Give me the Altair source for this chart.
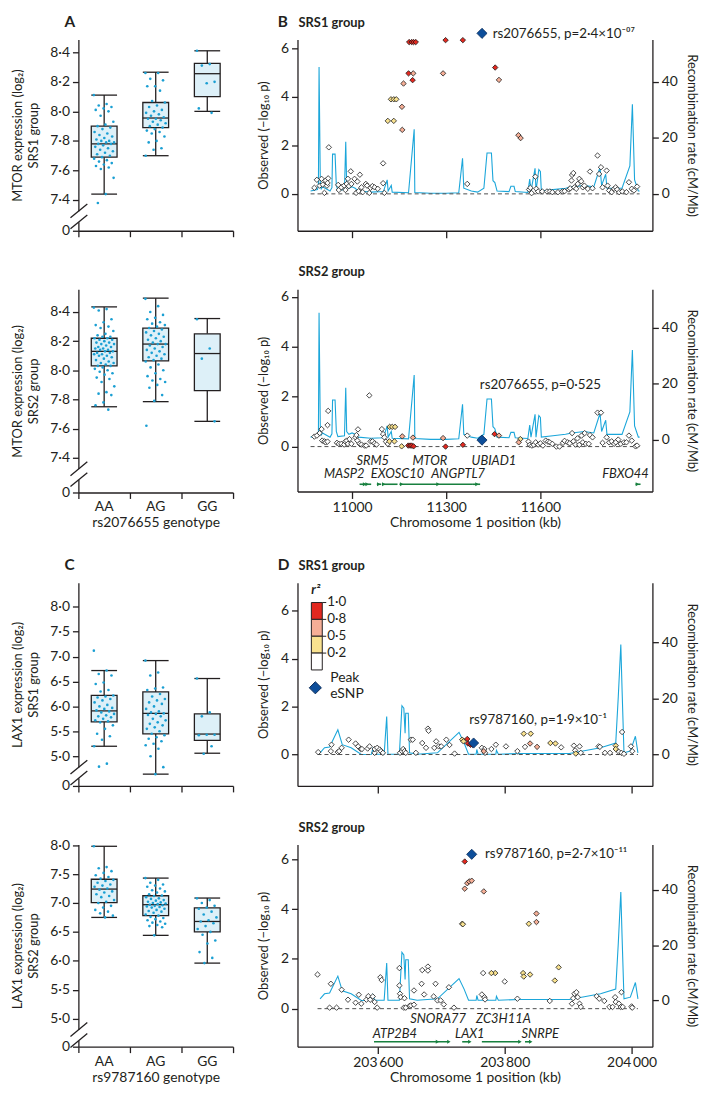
import altair as alt
import pandas as pd

FONT = "Lato"
INK = "#231f20"
BOX_FILL = "#ddf0f8"
DOT = "#1a9fd3"
REC = "#1ba6da"
GREEN = "#18803f"
PEAK = "#0d4e9a"
R2_CODES = ["w", "y", "s", "r"]
R2_COLORS = ["#ffffff", "#f9e28f", "#f5ae96", "#e3281f"]
GENOTYPES = ["AA", "AG", "GG"]

# ---------------- Panel A: MTOR expression by rs2076655 genotype ----------------
A1_AA = [8.11, 8.05, 8.04, 8.03, 8.02, 8.01, 8.00, 7.97, 7.93, 7.91, 7.90, 7.89, 7.88, 7.86, 7.85,
         7.84, 7.83, 7.82, 7.81, 7.80, 7.80, 7.79, 7.79, 7.78, 7.78, 7.77, 7.76, 7.75, 7.74, 7.73,
         7.72, 7.71, 7.70, 7.69, 7.68, 7.67, 7.66, 7.65, 7.64, 7.63, 7.62, 7.61, 7.55, 7.44, 7.38]
A1_AG = [8.26, 8.26, 8.22, 8.21, 8.17, 8.17, 8.14, 8.07, 8.06, 8.04, 8.03, 8.01, 8.00, 7.99, 7.98,
         7.97, 7.96, 7.95, 7.95, 7.94, 7.93, 7.92, 7.91, 7.90, 7.89, 7.88, 7.87, 7.86, 7.85, 7.83,
         7.80, 7.79, 7.75, 7.74, 7.70]
A1_GG = [8.41, 8.32, 8.31, 8.20, 8.19, 8.02, 7.99]
A1_BOX = [[7.44, 7.69, 7.78, 7.90, 8.11], [7.70, 7.89, 7.955, 8.06, 8.265], [8.00, 8.10, 8.255, 8.325, 8.41]]

A2_AA = [8.43, 8.42, 8.41, 8.35, 8.33, 8.31, 8.30, 8.29, 8.27, 8.25, 8.24, 8.23, 8.23, 8.22, 8.22,
         8.21, 8.21, 8.20, 8.19, 8.19, 8.18, 8.18, 8.17, 8.16, 8.16, 8.15, 8.15, 8.14, 8.14, 8.13,
         8.13, 8.12, 8.12, 8.11, 8.11, 8.10, 8.10, 8.09, 8.08, 8.07, 8.06, 8.05, 8.05, 8.04, 8.03,
         8.03, 8.02, 8.01, 8.00, 7.99, 7.98, 7.97, 7.95, 7.94, 7.92, 7.89, 7.85, 7.84, 7.83, 7.78,
         7.76, 7.73]
A2_AG = [8.49, 8.44, 8.40, 8.38, 8.36, 8.35, 8.33, 8.32, 8.31, 8.30, 8.29, 8.28, 8.27, 8.26, 8.25,
         8.24, 8.23, 8.22, 8.21, 8.20, 8.19, 8.18, 8.18, 8.17, 8.16, 8.15, 8.14, 8.13, 8.12, 8.11,
         8.10, 8.09, 8.08, 8.07, 8.06, 8.04, 8.02, 8.00, 7.98, 7.96, 7.94, 7.93, 7.92, 7.90, 7.88,
         7.83, 7.79, 7.62]
A2_GG = [8.35, 8.15, 8.08, 7.65]
A2_BOX = [[7.75, 8.03, 8.13, 8.22, 8.435], [7.785, 8.065, 8.18, 8.29, 8.495], [7.65, 7.86, 8.115, 8.25, 8.355]]

# ---------------- Panel C: LAX1 expression by rs9787160 genotype ----------------
C1_AA = [7.12, 6.72, 6.65, 6.62, 6.48, 6.45, 6.33, 6.30, 6.22, 6.20, 6.18, 6.15, 6.12, 6.08, 6.03,
         6.00, 5.97, 5.95, 5.92, 5.90, 5.88, 5.85, 5.82, 5.80, 5.78, 5.75, 5.72, 5.70, 5.68, 5.62,
         5.55, 5.45, 5.40, 5.33, 5.20, 4.85, 4.79]
C1_AG = [6.92, 6.68, 6.62, 6.38, 6.36, 6.33, 6.25, 6.20, 6.15, 6.12, 6.08, 6.05, 6.00, 5.95, 5.90,
         5.88, 5.86, 5.85, 5.83, 5.80, 5.75, 5.72, 5.68, 5.65, 5.62, 5.58, 5.55, 5.50, 5.45, 5.42,
         5.38, 5.35, 5.30, 5.25, 5.22, 5.15, 5.00, 4.78, 4.64]
C1_GG = [6.56, 5.88, 5.80, 5.43, 5.43, 5.42, 5.20, 5.05]
C1_BOX = [[5.20, 5.69, 5.91, 6.22, 6.72], [4.64, 5.45, 5.86, 6.29, 6.92], [5.06, 5.32, 5.445, 5.85, 6.56]]

C2_AA = [7.98, 7.62, 7.60, 7.55, 7.52, 7.48, 7.45, 7.42, 7.40, 7.38, 7.35, 7.32, 7.30, 7.28, 7.25,
         7.23, 7.20, 7.18, 7.15, 7.12, 7.10, 7.05, 7.02, 7.00, 6.95, 6.92, 6.88, 6.85, 6.82, 6.78, 6.75]
C2_AG = [7.43, 7.40, 7.35, 7.32, 7.30, 7.28, 7.25, 7.22, 7.20, 7.18, 7.15, 7.13, 7.12, 7.10, 7.08,
         7.07, 7.05, 7.04, 7.02, 7.01, 7.00, 6.99, 6.98, 6.97, 6.96, 6.95, 6.94, 6.93, 6.92, 6.90,
         6.88, 6.86, 6.85, 6.83, 6.80, 6.78, 6.76, 6.74, 6.72, 6.70, 6.68, 6.66, 6.64, 6.62, 6.60,
         6.58, 6.44]
C2_GG = [7.08, 7.05, 7.00, 6.95, 6.92, 6.90, 6.85, 6.80, 6.75, 6.70, 6.68, 6.65, 6.60, 6.55, 6.50,
         6.45, 6.35, 6.30, 6.15, 6.05, 5.96]
C2_BOX = [[6.75, 7.005, 7.24, 7.41, 7.98], [6.44, 6.78, 6.97, 7.125, 7.43], [5.96, 6.50, 6.68, 6.915, 7.085]]

# ---------------- Panel B: MTOR locus (kb, -log10 p) ----------------
B1_WHITE = [(10880, .25), (10888, .58), (10897, .34), (10903, .62), (10907, .38), (10912, .04), (10916, .55),
            (10920, .34), (10924, .64), (10922, .45), (10926, 1.92), (10956, .37), (10958, .16), (10966, .27),
            (10975, .34), (10979, .16), (10983, .41), (10987, .62), (10990, .32), (10996, .93), (10998, .41),
            (11008, .62), (11013, .04), (11017, .51), (11021, .11), (11025, .79), (11030, .27), (11034, .07),
            (11044, .41), (11048, .34), (11055, .04), (11059, .25), (11065, .32), (11072, .27), (11082, .21),
            (11099, 1.26), (11099, .44), (11103, .04), (11367, .41),
            (11564, .18), (11568, .25), (11572, .03), (11584, .71), (11587, .21), (11593, .10), (11606, .10),
            (11621, .10), (11630, .10), (11638, .07), (11656, .07), (11670, .10), (11677, .11), (11691, .18),
            (11695, .23), (11699, .55), (11701, .78), (11705, .86), (11708, .27), (11714, .21), (11719, .41),
            (11724, .62), (11730, .52), (11735, .27), (11740, .34), (11751, .21), (11758, .92), (11766, .23),
            (11782, 1.58), (11787, .82), (11793, 1.10), (11798, .27), (11811, .96), (11814, .34), (11819, .14),
            (11827, .07), (11835, .21), (11840, .27), (11845, .18), (11851, .07), (11861, .10), (11874, .07),
            (11882, .48), (11891, .21), (11898, .14), (11908, .30)]
B1_YELLOW = [(11114, 3.01), (11133, 3.01), (11124, 3.90), (11133, 3.90), (11141, 3.90)]
B1_SALMON = [(11159, 3.59), (11160, 2.64), (11164, 4.55), (11195, 4.97), (11290, 4.97), (11468, 4.70),
             (11530, 2.42), (11537, 2.30)]
B1_RED = [(11180, 4.97), (11193, 4.69), (11182, 6.26), (11190, 6.26), (11196, 6.26), (11203, 6.26),
          (11298, 6.34), (11353, 6.34), (11456, 5.21)]
B1_PEAK = (11414, 6.62)
B1_LABEL = ("rs2076655, p=2\u00b74\u00d710\u207b\u2070\u2077", 11448, 6.58)

B2_WHITE = [(10880, .40), (10888, .44), (10897, .54), (10903, .70), (10905, .24), (10912, .21), (10916, .17),
            (10922, .20), (10922, .86), (10924, 1.43), (10952, .15), (10958, .11), (10966, .11), (10975, .08),
            (10979, .20), (10983, .24), (10987, .11), (10992, .30), (10998, .11), (11011, .37), (11014, .46),
            (11019, .69), (11017, .24), (11024, .11), (11030, .08), (11040, .04), (11045, .04), (11055, 2.05),
            (11059, .21), (11065, .21), (11072, .13), (11078, .08), (11095, .70), (11099, .50), (11103, .37),
            (11108, .20), (11114, .11), (11367, .44),
            (11562, .20), (11566, .07), (11573, .04), (11579, .07), (11585, .17), (11593, .08), (11600, .13),
            (11608, .04), (11617, .24), (11624, .20), (11630, .17), (11638, .11), (11651, .0), (11661, .0),
            (11672, .15), (11677, .23), (11687, .17), (11693, .13), (11701, .54), (11705, .21), (11712, .08),
            (11718, .33), (11724, .07), (11731, .44), (11735, .17), (11741, .54), (11745, .11), (11754, .11),
            (11758, .46), (11766, .37), (11782, 1.36), (11793, 1.36), (11798, .15), (11811, .37), (11819, .17),
            (11827, .21), (11835, .11), (11840, .17), (11848, .28), (11856, .11), (11866, .17), (11874, .17),
            (11882, .44), (11891, .24), (11903, .01), (11908, .04)]
B2_YELLOW = [(11120, .79), (11128, .79), (11137, .79), (11119, .21), (11135, .21), (11158, .01), (11536, .30)]
B2_SALMON = [(11160, .41), (11194, .36), (11290, .34), (11468, .44), (11531, .17)]
B2_RED = [(11179, .04), (11185, .04), (11190, .04), (11196, .01), (11298, .0), (11353, .07), (11454, .50)]
B2_PEAK = (11414, 0.26)
B2_LABEL = ("rs2076655, p=0\u00b7525", 11407, 2.45)

B_REC_KB = [10868, 10890, 10893, 10895, 10899, 10902, 10906, 10930, 10936, 10938, 10946, 10950, 10955,
            10976, 10980, 10983, 10990, 11000, 11010, 11020, 11060, 11100, 11112, 11115, 11125, 11128,
            11180, 11198, 11200, 11250, 11300, 11340, 11352, 11356, 11380, 11400, 11420, 11430, 11444,
            11449, 11455, 11462, 11500, 11506, 11516, 11520, 11560, 11566, 11570, 11583, 11586, 11595,
            11600, 11603, 11640, 11680, 11700, 11740, 11770, 11790, 11795, 11808, 11812, 11860, 11885,
            11893, 11900, 11912, 11916]
B_REC_RATE = [1.0, 1.5, 3.0, 45.3, 4.0, 1.8, 2.5, 1.0, 2.2, 14.2, 14.2, 3.0, 1.2,
              1.5, 18.6, 3.0, 2.0, 2.5, 2.0, 1.0, 0.6, 0.8, 5.0, 1.0, 3.0, 0.6,
              0.4, 23.1, 0.5, 0.2, 0.2, 0.4, 12.7, 2.0, 1.0, 0.6, 2.0, 14.6, 14.6,
              4.7, 4.0, 1.0, 0.8, 2.7, 2.7, 0.8, 0.5, 5.3, 1.0, 9.1, 1.0, 8.7,
              8.0, 1.0, 1.5, 2.0, 2.5, 3.0, 2.5, 9.5, 3.0, 7.0, 2.0, 2.0, 10.0,
              32.0, 5.0, 1.0, 1.0]

B_GENE_NAMES = ["SRM5", "MTOR", "UBIAD1", "MASP2", "EXOSC10", "ANGPTL7", "FBXO44"]
B_GENE_LABEL_KB = [11066, 11248, 11452, 10975, 11145, 11338, 11871]
B_GENE_ROW = [1, 1, 1, 2, 2, 2, 2]
B_GENE_START = [11024, 11079, 11098, 11151, 11385, 11903]
B_GENE_END = [11061, 11093, 11145, 11385, 11408, 11919]
B_GENE_MARKS = [11040, 11048, 11085, 11101, 11158, 11274, 11398, 11909]

# ---------------- Panel D: LAX1 locus ----------------
D1_WHITE = [(203506, .10), (203526, .14), (203527, .41), (203537, .10), (203539, .14), (203543, .28),
            (203554, .62), (203565, .46), (203569, .34), (203573, .23), (203575, .23), (203584, .25),
            (203587, .34), (203595, .07), (203595, .23), (203599, .28), (203603, .21), (203605, .14),
            (203608, .07), (203635, .07), (203638, .14), (203640, .23), (203642, .14), (203644, .07),
            (203652, .62), (203655, .62), (203660, .07), (203670, .48), (203676, .28), (203679, 1.08),
            (203680, .99), (203689, .28), (203692, .55), (203696, .34), (203700, .34), (203708, .62),
            (203713, .40), (203721, .04), (203764, .28), (203768, .23), (203769, .07), (203779, .23),
            (203786, .41), (203802, .34), (203820, .14), (203832, .32), (203889, .30), (203909, .37),
            (203911, .17), (203918, .34), (203920, .07), (203948, .34), (203950, .32), (203958, .07),
            (203966, .07), (203980, .11), (203985, .94), (203984, .07), (203988, .03), (203999, .34),
            (204001, .14)]
D1_YELLOW = [(203733, .62), (203735, .55), (203830, .87), (203841, .87), (203872, .48), (203880, .46),
             (203912, .04), (203975, .37), (203975, .23)]
D1_SALMON = [(203767, .14), (203840, .46), (203851, .32)]
D1_RED = [(203741, .65), (203742, .46), (203746, .41), (203749, .41)]
D1_PEAK = (203751, 0.48)
D1_LABEL = ("rs9787160, p=1\u00b79\u00d710\u207b\u00b9", 203744, 1.46)

D2_WHITE = [(203505, 1.37), (203526, 1.00), (203524, .04), (203535, .04), (203543, .76), (203553, .36),
            (203565, .24), (203570, .56), (203574, .20), (203582, .36), (203585, .50), (203588, .36),
            (203592, .49), (203595, .27), (203599, .04), (203604, 1.26), (203606, 1.15), (203634, 1.63),
            (203634, .93), (203635, .60), (203636, .46), (203642, .42), (203641, .04), (203644, .04),
            (203650, .11), (203652, .13), (203657, .73), (203657, .16), (203669, 1.00), (203670, 1.55),
            (203673, .57), (203679, 1.69), (203679, 1.53), (203688, .49), (203691, 1.00), (203694, .33),
            (203699, .33), (203704, .17), (203712, .86), (203720, .04), (203766, 1.43), (203764, .57),
            (203768, .46), (203769, .37), (203800, 1.09), (203820, .40), (203871, .31),
            (203906, .20), (203908, .42), (203910, .60), (203913, .66), (203915, .46), (203918, .20),
            (203920, .07), (203945, .50), (203949, .40), (203957, .31), (203965, .07), (203970, .07),
            (203974, .46), (203975, .27), (203980, .20), (203983, .07), (203984, .66), (203986, .07),
            (204000, .09), (204001, .04)]
D2_YELLOW = [(203733, 3.41), (203734, 3.39), (203838, 3.41), (203829, 1.43), (203830, 1.29), (203840, 1.37),
             (203785, 1.43), (203779, 1.43), (203879, 1.13), (203885, 1.66)]
D2_SALMON = [(203737, 4.82), (203741, 5.04), (203744, 5.11), (203748, 5.14), (203767, 4.71), (203850, 3.82),
             (203850, 3.48)]
D2_RED = [(203737, 5.91)]
D2_PEAK = (203748, 6.20)
D2_LABEL = ("rs9787160, p=2\u00b77\u00d710\u207b\u00b9\u00b9", 203769, 6.20)

D_REC_KB = [203509, 203516, 203524, 203537, 203544, 203558, 203574, 203590, 203592, 203595, 203610,
            203614, 203616, 203634, 203638, 203641, 203643, 203644, 203648, 203650, 203662, 203694,
            203728, 203736, 203743, 203755, 203756, 203758, 203786, 203787, 203790, 203824, 203902,
            203951, 203975, 203979, 203983, 203985, 203988, 203998, 204006, 204010]
D_REC_RATE = [0.6, 2.4, 2.7, 8.8, 3.5, 2.4, 0.0, 0.1, 2.0, 0.1, 0.1,
              13.5, 0.1, 0.1, 17.4, 16.5, 7.6, 14.7, 14.7, 0.6, 0.1, 0.6,
              7.9, 4.1, 0.1, 0.1, 1.8, 0.1, 0.1, 1.5, 0.1, 0.35, 0.35,
              2.4, 4.1, 20.6, 39.2, 22.9, 0.6, 1.2, 6.5, 0.6]

D_GENE_NAMES = ["SNORA77", "ZC3H11A", "ATP2B4", "LAX1", "SNRPE"]
D_GENE_LABEL_KB = [203695, 203798, 203627, 203745, 203856]
D_GENE_ROW = [1, 1, 2, 2, 2]
D_GENE_START = [203594, 203733, 203764, 203832]
D_GENE_END = [203712, 203745, 203824, 203841]
D_GENE_MARKS = [203694, 203712, 203745, 203824, 203841]

LEGEND_LABELS = ["1\u00b70", "0\u00b78", "0\u00b75", "0\u00b72"]


def one(**kw):
    return pd.DataFrame({k: [v] for k, v in kw.items()} or {"z": [0]})


def box_panel(groups, box, dom, ticks, h, ytitle, letter=None, xtitle=None):
    w = 156
    pts = pd.DataFrame([{"g": gi, "k": k, "v": v}
                        for gi, vals in enumerate(groups) for k, v in enumerate(vals)])
    st = pd.DataFrame({"g": [0, 1, 2], "name": GENOTYPES,
                       "lo": [b[0] for b in box], "q1": [b[1] for b in box], "med": [b[2] for b in box],
                       "q3": [b[3] for b in box], "hi": [b[4] for b in box]})
    xs = alt.Scale(domain=[0, 3], nice=False, zero=False)
    ys = alt.Scale(domain=dom, nice=False, zero=False)
    cut = ticks[0] - (ticks[1] - ticks[0]) * 0.5
    yaxis = alt.Axis(values=[dom[0]] + ticks,
                     labelExpr=f"datum.value < {cut} ? '0' : replace(format(datum.value, '.1f'), '.', '\u00b7')",
                     title=ytitle, titleFontSize=13, titleLineHeight=17, titlePadding=9)
    if xtitle:
        xaxis = alt.Axis(values=[0, 1, 2, 3], labels=False, tickSize=6, title=xtitle, titlePadding=17,
                         titleFontSize=14)
    else:
        xaxis = alt.Axis(values=[0, 1, 2, 3], labels=False, tickSize=6, title=None)

    def X(f):
        return alt.X(f, scale=xs, axis=xaxis)

    def Y(f):
        return alt.Y(f, scale=ys, axis=yaxis)

    base = alt.Chart(st).transform_calculate(xc="datum.g + 0.5", xl="datum.g + 0.25", xr="datum.g + 0.75")
    whisk_lo = base.mark_rule(color=INK, strokeWidth=1.3).encode(x=X("xc:Q"), y=Y("lo:Q"), y2="q1:Q")
    whisk_hi = base.mark_rule(color=INK, strokeWidth=1.3).encode(x=X("xc:Q"), y=Y("q3:Q"), y2="hi:Q")
    cap_lo = base.mark_rule(color=INK, strokeWidth=1.3).encode(x=X("xl:Q"), x2="xr:Q", y=Y("lo:Q"))
    cap_hi = base.mark_rule(color=INK, strokeWidth=1.3).encode(x=X("xl:Q"), x2="xr:Q", y=Y("hi:Q"))
    rect = base.mark_rect(fill=BOX_FILL, stroke=INK, strokeWidth=1.3).encode(
        x=X("xl:Q"), x2="xr:Q", y=Y("q1:Q"), y2="q3:Q")
    med = base.mark_rule(color=INK, strokeWidth=1.3).encode(x=X("xl:Q"), x2="xr:Q", y=Y("med:Q"))
    dots = alt.Chart(pts).transform_calculate(
        xj="datum.g + 0.5 + (((datum.k * 0.6180339887) % 1) - 0.5) * 0.4"
    ).mark_circle(size=7, color=DOT, opacity=1).encode(x=X("xj:Q"), y=Y("v:Q"))
    py = h * (dom[1] - ticks[0]) / (dom[1] - dom[0])
    gap = alt.Chart(one()).mark_rect(fill="white").encode(
        x=alt.value(-3), x2=alt.value(3), y=alt.value(py + 11.4), y2=alt.value(py + 22.4))
    s1 = alt.Chart(one()).mark_rule(color=INK, strokeWidth=1.3).encode(
        x=alt.value(-8), x2=alt.value(9), y=alt.value(py + 18), y2=alt.value(py + 4))
    s2 = alt.Chart(one()).mark_rule(color=INK, strokeWidth=1.3).encode(
        x=alt.value(-8), x2=alt.value(9), y=alt.value(py + 29), y2=alt.value(py + 15))
    layers = [whisk_lo, whisk_hi, cap_lo, cap_hi, rect, med, dots, gap, s1, s2]
    if xtitle:
        glab = base.mark_text(baseline="top", fontSize=14).encode(
            x=X("xc:Q"), y=alt.value(h + 8), text="name:N")
        layers.append(glab)
    if letter:
        layers.append(alt.Chart(one()).mark_text(fontSize=15.5, fontWeight="bold", align="left",
                                                 baseline="alphabetic").encode(
            x=alt.value(-14), y=alt.value(-13), text=alt.value(letter)))
    return alt.layer(*layers).properties(width=w, height=h)


def snp_frame(white, yellow, salmon, red):
    rows = []
    for code, lst in zip(R2_CODES, [white, yellow, salmon, red]):
        for kb, p in lst:
            rows.append({"kb": kb, "p": p, "cat": code, "o": R2_CODES.index(code)})
    return pd.DataFrame(rows)


def locus_panel(sn, peak, rec_kb, rec_rate, xdom, xticks, xlab_expr, pdom, rdom, h, zero_span,
                label, group, letter=None, genes=None, show_x=False, legend=False):
    w = 358
    xs = alt.Scale(domain=xdom, nice=False, zero=False)
    ps = alt.Scale(domain=pdom, nice=False, zero=False)
    rs = alt.Scale(domain=rdom, nice=False, zero=False)
    if show_x:
        xaxis = alt.Axis(values=xticks, labelExpr=xlab_expr, tickSize=7, labelPadding=2,
                         title="Chromosome 1 position (kb)", titlePadding=1, titleFontSize=14)
    else:
        xaxis = alt.Axis(values=xticks, labels=False, tickSize=7, title=None)
    paxis = alt.Axis(values=[0, 2, 4, 6], format="d", title="Observed (\u2212log\u2081\u2080 p)",
                     titlePadding=10, orient="left")
    raxis = alt.Axis(values=[0, 20, 40], format="d", title="Recombination rate (cM/Mb)",
                     titlePadding=7, orient="right")

    def X(f):
        return alt.X(f, scale=xs, axis=xaxis)

    def P(f):
        return alt.Y(f, scale=ps, axis=paxis)

    rec = alt.Chart(pd.DataFrame({"kb": rec_kb, "rate": rec_rate})).mark_line(
        color=REC, strokeWidth=1.1).encode(
        x=X("kb:Q"), y=alt.Y("rate:Q", scale=rs, axis=raxis))

    zero = alt.Chart(one(a=zero_span[0], b=zero_span[1], z=0)).mark_rule(
        strokeDash=[4, 3], color="#4d4d4d", strokeWidth=1).encode(x=X("a:Q"), x2="b:Q", y=P("z:Q"))
    pts = alt.Chart(sn).mark_point(shape="diamond", filled=True, size=30, stroke="#1a1a1a",
                                   strokeWidth=0.8, opacity=1).encode(
        x=X("kb:Q"), y=P("p:Q"),
        fill=alt.Fill("cat:N", scale=alt.Scale(domain=R2_CODES, range=R2_COLORS), legend=None),
        order=alt.Order("o:Q"))
    pk = alt.Chart(one(kb=peak[0], p=peak[1])).mark_point(
        shape="diamond", filled=True, size=105, fill=PEAK, stroke="#0a2d5a", strokeWidth=0.8,
        opacity=1).encode(x=X("kb:Q"), y=P("p:Q"))
    lab = alt.Chart(one(kb=label[1], p=label[2], t=label[0])).mark_text(
        align="left", baseline="middle", fontSize=13.5).encode(
        x=X("kb:Q"), y=P("p:Q"), text="t:N")
    inner = [zero, pts, pk, lab]
    if genes:
        names, lab_kb, rows, starts, ends, marks, rowy, liney = genes
        gl = pd.DataFrame({"kb": lab_kb, "name": names, "y": [rowy[r - 1] for r in rows]})
        inner.append(alt.Chart(gl).mark_text(fontStyle="italic", fontSize=13, baseline="middle").encode(
            x=X("kb:Q"), y=P("y:Q"), text="name:N"))
        sg = pd.DataFrame({"a": starts, "b": ends, "y": [liney] * len(starts)})
        inner.append(alt.Chart(sg).mark_rule(color=GREEN, strokeWidth=1.6).encode(
            x=X("a:Q"), x2="b:Q", y=P("y:Q")))
        mk = pd.DataFrame({"kb": marks, "y": [liney] * len(marks)})
        inner.append(alt.Chart(mk).mark_point(shape="triangle-right", filled=True, size=16, color=GREEN,
                                              opacity=1).encode(x=X("kb:Q"), y=P("y:Q")))
    ttl = alt.Chart(one()).mark_text(fontSize=13, fontWeight="bold", align="left",
                                     baseline="alphabetic").encode(
        x=alt.value(1), y=alt.value(-13), text=alt.value(group))
    inner.append(ttl)
    if letter:
        inner.append(alt.Chart(one()).mark_text(fontSize=15.5, fontWeight="bold", align="left",
                                                baseline="alphabetic").encode(
            x=alt.value(-20), y=alt.value(-13), text=alt.value(letter)))
    left = alt.layer(*inner)
    parts = [rec, left]
    if legend:
        lg = pd.DataFrame({"i": [0, 1, 2, 3], "i2": [1, 2, 3, 4], "col": R2_COLORS[::-1],
                           "lab": LEGEND_LABELS})
        ls = alt.Scale(domain=[0, 4], range=[20, 88], nice=False, zero=False)
        boxes = alt.Chart(lg).mark_rect(stroke=INK, strokeWidth=1).encode(
            x=alt.value(14), x2=alt.value(25), y=alt.Y("i:Q", scale=ls, axis=None), y2="i2:Q",
            fill=alt.Fill("col:N", scale=None))
        ticks = alt.Chart(lg).mark_rule(color=INK, strokeWidth=1).encode(
            x=alt.value(25), x2=alt.value(29), y=alt.Y("i:Q", scale=ls, axis=None))
        labs = alt.Chart(lg).mark_text(align="left", baseline="middle", fontSize=13.5).encode(
            x=alt.value(30), y=alt.Y("i:Q", scale=ls, axis=None), text="lab:N")
        r2 = alt.Chart(one()).mark_text(fontSize=13, fontWeight="bold", fontStyle="italic",
                                        align="left", baseline="alphabetic").encode(
            x=alt.value(14), y=alt.value(11), text=alt.value("r\u00b2"))
        pkd = alt.Chart(one()).mark_point(shape="diamond", filled=True, size=150, fill=PEAK,
                                          stroke="#0a2d5a", strokeWidth=1, opacity=1).encode(
            x=alt.value(18), y=alt.value(106))
        pk1 = alt.Chart(one()).mark_text(align="left", baseline="middle", fontSize=14).encode(
            x=alt.value(33), y=alt.value(96), text=alt.value("Peak"))
        pk2 = alt.Chart(one()).mark_text(align="left", baseline="middle", fontSize=14).encode(
            x=alt.value(33), y=alt.value(112), text=alt.value("eSNP"))
        parts.append(alt.layer(boxes, ticks, labs, r2, pkd, pk1, pk2))
    return alt.layer(*parts).resolve_scale(y="independent").properties(width=w, height=h)


B_XDOM = [10826.3, 11956.8]
D_XDOM = [203473.4, 204032.8]
B_LAB = "format(datum.value, 'd')"
D_LAB = "replace(format(datum.value, ','), ',', '\u2009')"

A1 = box_panel([A1_AA, A1_AG, A1_GG], A1_BOX, [7.192, 8.487], [7.4, 7.6, 7.8, 8.0, 8.2, 8.4], 193,
               ["MTOR expression (log\u2082)", "SRS1 group"], letter="A")
A2 = box_panel([A2_AA, A2_AG, A2_GG], A2_BOX, [7.162, 8.556], [7.4, 7.6, 7.8, 8.0, 8.2, 8.4], 205,
               ["MTOR expression (log\u2082)", "SRS2 group"], xtitle="rs2076655 genotype")
C1 = box_panel([C1_AA, C1_AG, C1_GG], C1_BOX, [4.403, 8.484], [5.0, 5.5, 6.0, 6.5, 7.0, 7.5, 8.0], 205,
               ["LAX1 expression (log\u2082)", "SRS1 group"], letter="C")
C2 = box_panel([C2_AA, C2_AG, C2_GG], C2_BOX, [4.515, 8.012], [5.0, 5.5, 6.0, 6.5, 7.0, 7.5, 8.0], 204,
               ["LAX1 expression (log\u2082)", "SRS2 group"], xtitle="rs9787160 genotype")

B1 = locus_panel(snp_frame(B1_WHITE, B1_YELLOW, B1_SALMON, B1_RED), B1_PEAK, B_REC_KB, B_REC_RATE,
                 B_XDOM, [11000, 11300, 11600], B_LAB, [-1.521, 6.37], [-13.2, 55.2], 193,
                 (10868, 11916), B1_LABEL, "SRS1 group", letter="B")
B2 = locus_panel(snp_frame(B2_WHITE, B2_YELLOW, B2_SALMON, B2_RED), B2_PEAK, B_REC_KB, B_REC_RATE,
                 B_XDOM, [11000, 11300, 11600], B_LAB, [-1.80, 6.306], [-18.35, 53.65], 204,
                 (10868, 11916), B2_LABEL, "SRS2 group",
                 genes=(B_GENE_NAMES, B_GENE_LABEL_KB, B_GENE_ROW, B_GENE_START, B_GENE_END,
                        B_GENE_MARKS, (-0.57, -1.12), -1.51), show_x=True)
D1 = locus_panel(snp_frame(D1_WHITE, D1_YELLOW, D1_SALMON, D1_RED), D1_PEAK, D_REC_KB, D_REC_RATE,
                 D_XDOM, [203600, 203800, 204000], D_LAB, [-1.311, 7.171], [-11.2, 61.2], 205,
                 (203505, 204010), D1_LABEL, "SRS1 group", letter="D", legend=True)
D2 = locus_panel(snp_frame(D2_WHITE, D2_YELLOW, D2_SALMON, D2_RED), D2_PEAK, D_REC_KB, D_REC_RATE,
                 D_XDOM, [203600, 203800, 204000], D_LAB, [-1.527, 6.597], [-16.7, 56.4], 204,
                 (203505, 204010), D2_LABEL, "SRS2 group",
                 genes=(D_GENE_NAMES, D_GENE_LABEL_KB, D_GENE_ROW, D_GENE_START, D_GENE_END,
                        D_GENE_MARKS, (-0.41, -1.01), -1.33), show_x=True)

chart = alt.concat(A1, B1, A2, B2, C1, D1, C2, D2, columns=2,
                   spacing={"row": 28, "column": 23}, align="each").properties(
    padding={"left": 3, "top": 2, "right": 2, "bottom": 0}
).configure_view(strokeWidth=0).configure_axis(
    domainColor=INK, domainWidth=1.3, tickColor=INK, tickWidth=1.3, tickSize=6,
    labelFont=FONT, labelFontSize=14, labelColor=INK, labelPadding=3,
    titleFont=FONT, titleFontSize=13, titleFontWeight="normal", titleColor=INK, grid=False
).configure_text(font=FONT, color=INK)

chart.save("out.html", embed_options={"renderer": "svg", "actions": False})
